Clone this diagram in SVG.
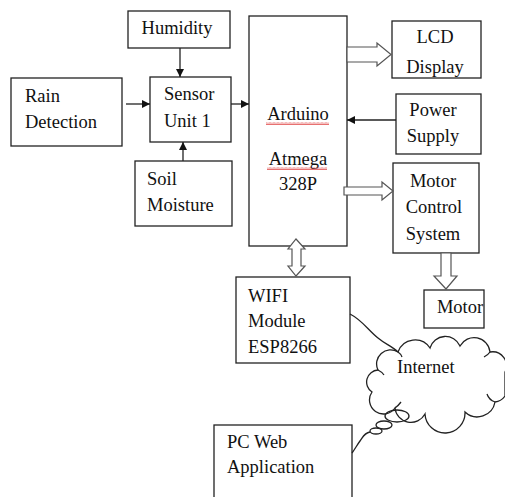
<svg xmlns="http://www.w3.org/2000/svg" width="505" height="497" viewBox="0 0 505 497">
<style>
.box{fill:#fff;stroke:#222;stroke-width:1.3}
.t{font-family:"Liberation Serif","Times New Roman",serif;font-size:18.5px;fill:#111}
.m{text-anchor:middle}
.ln{fill:none;stroke:#222;stroke-width:1.3}
.hol{fill:#fff;stroke:#555;stroke-width:1.2;stroke-linejoin:miter}
</style>
<defs>
<marker id="ah" viewBox="0 0 10 10" refX="10" refY="5" markerWidth="8" markerHeight="8" markerUnits="userSpaceOnUse" orient="auto">
<path d="M0,0 L10,5 L0,10 z" fill="#111"/>
</marker>
<pattern id="sq" width="4" height="3" patternUnits="userSpaceOnUse" x="0" y="0">
<polyline points="0,2.5 1,0.5 2,2.5 3,0.5 4,2.5" fill="none" stroke="#d33" stroke-width="0.7"/>
</pattern>
<clipPath id="lcdclip"><rect x="392" y="21" width="89" height="56"/></clipPath>
</defs>
<rect width="505" height="497" fill="#fff"/>

<g id="humidity"><rect class="box" x="128" y="11" width="102" height="37"/><text class="t m" x="177" y="34">Humidity</text></g>
<g id="rain"><rect class="box" x="11" y="78" width="111" height="68"/><text class="t" x="25" y="102">Rain</text><text class="t" x="25" y="128">Detection</text></g>
<g id="sensor"><rect class="box" x="150" y="77" width="81" height="65"/><text class="t" x="164" y="100">Sensor</text><text class="t" x="164" y="127">Unit 1</text></g>
<g id="soil"><rect class="box" x="135" y="161" width="97" height="65"/><text class="t" x="147" y="185">Soil</text><text class="t" x="147" y="211">Moisture</text></g>
<g id="arduino"><rect class="box" x="249" y="16" width="98" height="230"/>
<text class="t m" x="298" y="120">Arduino</text><rect x="266" y="122" width="63" height="3" fill="url(#sq)"/>
<text class="t m" x="298" y="165">Atmega</text><rect x="267" y="167" width="60" height="3" fill="url(#sq)"/>
<text class="t m" x="298" y="190">328P</text></g>
<g id="lcd"><rect class="box" x="392" y="21" width="89" height="57"/><g clip-path="url(#lcdclip)"><text class="t m" x="435" y="43">LCD</text><text class="t m" x="435" y="73">Display</text></g></g>
<g id="power"><rect class="box" x="396" y="94" width="85" height="60"/><text class="t m" x="433" y="116">Power</text><text class="t m" x="433" y="142">Supply</text></g>
<g id="motorcontrol"><rect class="box" x="393" y="163" width="86" height="90"/><text class="t m" x="433" y="187">Motor</text><text class="t m" x="434" y="213">Control</text><text class="t m" x="433" y="240">System</text></g>
<g id="motor"><rect class="box" x="424" y="290" width="60" height="38"/><text class="t m" x="460" y="313">Motor</text></g>
<g id="wifi"><rect class="box" x="236" y="277" width="114" height="86"/><text class="t" x="248" y="302">WIFI</text><text class="t" x="248" y="327">Module</text><text class="t" x="248" y="353">ESP8266</text></g>
<g id="pc"><rect class="box" x="214" y="425" width="138" height="80"/><text class="t" x="227" y="448">PC Web</text><text class="t" x="227" y="473">Application</text></g>
<g id="internet">
<path class="ln" d="M372,392 A12,12 0 0 1 378,370 A14,14 0 0 1 398,352 A18,18 0 0 1 430,348 A16,16 0 0 1 460,346 A16,16 0 0 1 490,352 A14,14 0 0 1 505,372 L505,396 A14,14 0 0 1 495,402 A18,18 0 0 1 465,412 A20,20 0 0 1 425,414 A16,16 0 0 1 395,408 A12,12 0 0 1 372,392 z" fill="#fff"/>
<path class="ln" d="M378,370 q4,2 6,5 M398,352 q3,2 4,5 M490,352 q-2,3 -6,5 M495,402 q-6,-2 -8,-8 M395,408 q3,-2 6,-6"/>
<text class="t" x="397" y="373">Internet</text>
</g>

<g id="connectors">
<line class="ln" x1="180" y1="48" x2="180" y2="77" marker-end="url(#ah)"/>
<line class="ln" x1="126" y1="104" x2="150" y2="104" marker-end="url(#ah)"/>
<line class="ln" x1="183" y1="161" x2="183" y2="142" marker-end="url(#ah)"/>
<line class="ln" x1="231" y1="104" x2="249" y2="104" marker-end="url(#ah)"/>
<line class="ln" x1="396" y1="120" x2="347" y2="120" marker-end="url(#ah)"/>
<polygon class="hol" points="347,47 377,47 377,43 391,54.5 377,66 377,62 347,62"/>
<polygon class="hol" points="344,187 382,187 382,182 393,191 382,200 382,195 344,195"/>
<polygon class="hol" points="296,239 305,249 301,249 301,266 305,266 296,276 288,266 292,266 292,249 288,249"/>
<polygon class="hol" points="441,253 451,253 451,276 457,276 446,289 434,276 441,276"/>
<path class="ln" d="M350,314 C362,320 368,330 378,338 C385,344 392,346 398,352"/>
<ellipse class="ln" cx="397" cy="416" rx="12" ry="6" fill="#fff"/>
<ellipse class="ln" cx="384" cy="425" rx="8" ry="4" fill="#fff"/>
<ellipse class="ln" cx="376" cy="431" rx="6" ry="3" fill="#fff"/>
<path class="ln" d="M370,432 C364,433 363,437 360,441 C357,445 355,449 352,453"/>
</g>
</svg>
